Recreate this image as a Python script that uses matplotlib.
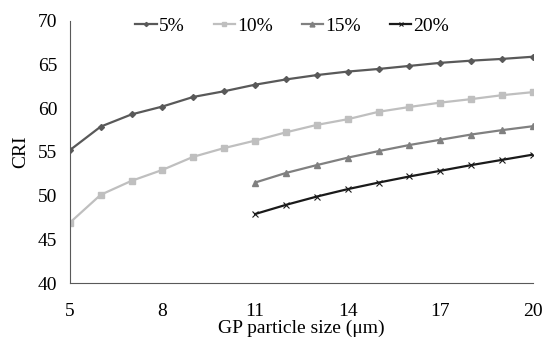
import matplotlib.pyplot as plt

plt.rcParams['font.family'] = ['Liberation Serif', 'DejaVu Serif']

size_5 = [5, 6, 7, 8, 9, 10, 11, 12, 13, 14, 15, 16, 17, 18, 19, 20]
cri_5 = [55.2, 57.9, 59.3, 60.2, 61.3, 61.95, 62.7, 63.3, 63.8, 64.2, 64.5, 64.85, 65.2, 65.45, 65.65, 65.9]
size_10 = [5, 6, 7, 8, 9, 10, 11, 12, 13, 14, 15, 16, 17, 18, 19, 20]
cri_10 = [46.9, 50.1, 51.7, 52.95, 54.45, 55.45, 56.3, 57.25, 58.1, 58.75, 59.6, 60.15, 60.65, 61.05, 61.5, 61.85]
size_15 = [11, 12, 13, 14, 15, 16, 17, 18, 19, 20]
cri_15 = [51.5, 52.6, 53.5, 54.35, 55.1, 55.8, 56.4, 57.0, 57.5, 57.95]
size_20 = [11, 12, 13, 14, 15, 16, 17, 18, 19, 20]
cri_20 = [47.9, 48.95, 49.9, 50.75, 51.5, 52.2, 52.85, 53.5, 54.1, 54.7]
xticks = [5, 8, 11, 14, 17, 20]

fig = plt.figure(figsize=(5.45, 3.37), dpi=100)
ax = fig.add_axes([0.128, 0.16, 0.85, 0.778])

ax.plot(size_5, cri_5, color='#595959', marker='D', markersize=3, lw=1.6, label='5%')
ax.plot(size_10, cri_10, color='#bfbfbf', marker='s', markersize=5, lw=1.6, label='10%')
ax.plot(size_15, cri_15, color='#808080', marker='^', markersize=5, lw=1.6, label='15%')
ax.plot(size_20, cri_20, color='#1a1a1a', marker='x', markersize=4, mew=0.8, lw=1.6, label='20%')

ax.set_xlim(5, 20)
ax.set_ylim(40, 70)
ax.set_xticks(xticks)
ax.set_yticks(range(40, 71, 5))
ax.tick_params(axis='y', length=0, labelsize=14, pad=9)
ax.tick_params(axis='x', length=0, labelsize=14, pad=14)
for s in ['top', 'right']:
    ax.spines[s].set_visible(False)
for s in ['left', 'bottom']:
    ax.spines[s].set_color('#595959')
ax.set_xlabel('GP particle size (μm)', fontsize=14, labelpad=0)
ax.set_ylabel('CRI', fontsize=14, labelpad=6)
leg = ax.legend(loc='upper center', bbox_to_anchor=(0.48, 1.08), ncol=4, frameon=False,
                fontsize=14, handlelength=1.1, handletextpad=0.1, columnspacing=1.5,
                markerscale=0.7)

fig.savefig('out.png', dpi=100)
